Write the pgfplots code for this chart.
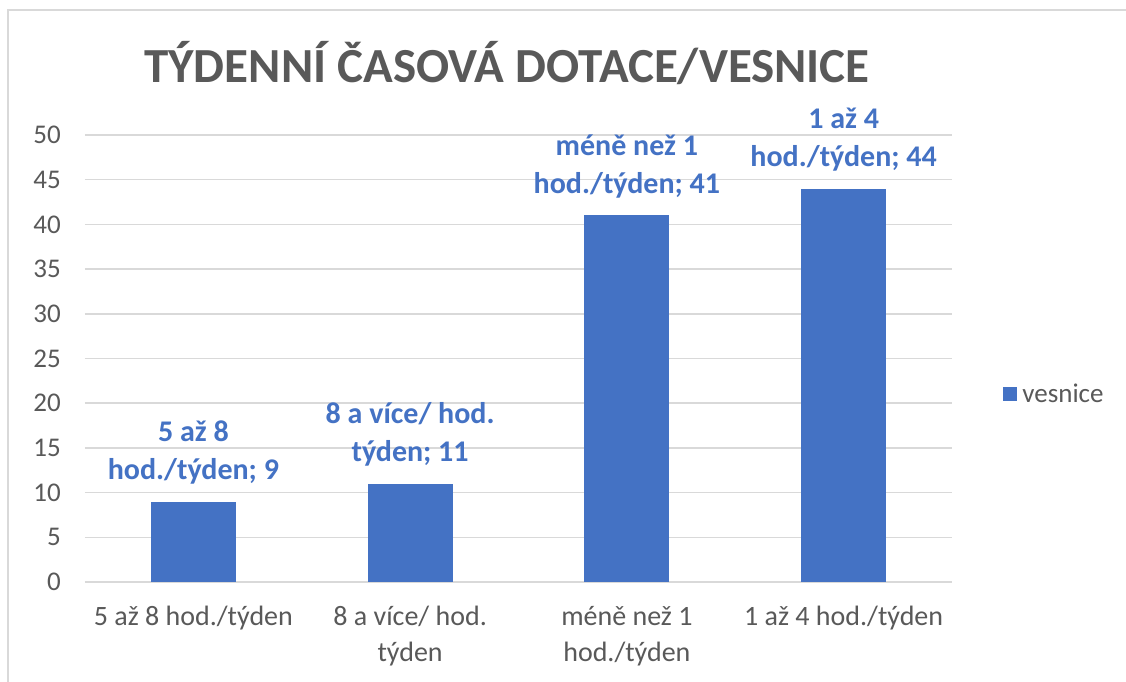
\documentclass[border=0pt]{standalone}
\usepackage{pgfplots}
\pgfplotsset{compat=1.18}
\usepackage{fontspec}
\setmainfont{Carlito}
\definecolor{barblue}{HTML}{4472C4}
\definecolor{txtgray}{HTML}{595959}
\definecolor{gridgray}{HTML}{D9D9D9}
\pgfplotsset{
  mybar/.style={ybar, bar width=85pt, fill=barblue, draw=none,
    point meta=y,
    every node near coord/.append style={anchor=south, align=center, inner sep=0pt, yshift=17pt, text=barblue, font=\fontsize{30}{38}\selectfont\bfseries}},
}
\begin{document}
\begin{tikzpicture}
\useasboundingbox (0,0) rectangle (1126pt,682pt);
\fill[white] (0,0) rectangle (1126pt,682pt);
\draw[gridgray, line width=2pt] (8pt,0pt) -- (8pt,672pt) -- (1126pt,672pt);
\node[anchor=base, text=txtgray, font=\fontsize{49}{58}\selectfont\bfseries, inner sep=0pt] at (507pt,599pt) {TÝDENNÍ ČASOVÁ DOTACE/VESNICE};
\begin{axis}[
  at={(85pt,100pt)}, anchor=south west,
  scale only axis, width=867pt, height=447pt,
  xmin=-0.5, xmax=3.5, ymin=0, ymax=50,
  ytick={0,5,...,50},
  xtick={0,1,2,3},
  xticklabels={5 až 8 hod./týden, {8 a více/ hod.\\týden}, {méně než 1\\hod./týden}, 1 až 4 hod./týden},
  axis lines*=left,
  axis line style={draw=none},
  major tick length=0pt,
  xtick style={draw=none}, ytick style={draw=none},
  ymajorgrids, grid style={gridgray, line width=1.5pt},
  /pgf/number format/assume math mode=true,
  xticklabel style={anchor=north, inner sep=0pt, yshift=-24pt, align=center, font=\fontsize{28}{36}\selectfont, text=txtgray},
  yticklabel style={anchor=east, inner sep=0pt, xshift=-24pt, font=\fontsize{27}{32}\selectfont, text=txtgray},
  clip=false,
  legend style={at={(1.059,0.42)}, anchor=west, draw=none, fill=none, font=\fontsize{27}{32}\selectfont, text=txtgray, inner sep=0pt},
  legend image code/.code={\fill[barblue] (0pt,-7pt) rectangle (14pt,7pt);},
]
\addplot[mybar, nodes near coords={5 až 8\\hod./týden; 9}] coordinates {(0,9)};
\addlegendentry{\hspace{3pt}vesnice}
\addplot[mybar, forget plot, nodes near coords={8 a více/ hod.\\týden; 11}] coordinates {(1,11)};
\addplot[mybar, forget plot, nodes near coords={méně než 1\\hod./týden; 41}] coordinates {(2,41)};
\addplot[mybar, forget plot, nodes near coords={1 až 4\\hod./týden; 44}] coordinates {(3,44)};
\end{axis}
\end{tikzpicture}
\end{document}
